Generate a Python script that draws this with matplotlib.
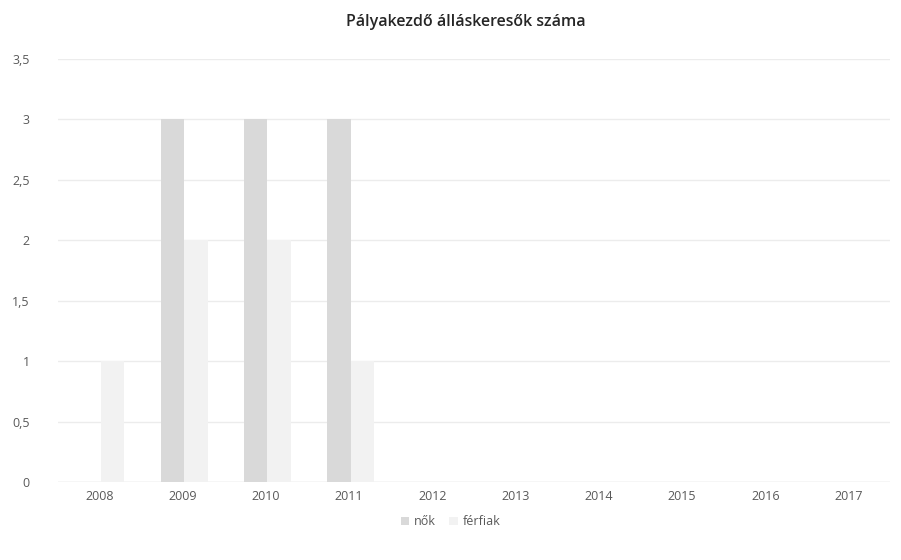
import numpy as np
import matplotlib.pyplot as plt

years = ['2008', '2009', '2010', '2011', '2012', '2013', '2014', '2015', '2016', '2017']
nok = [0, 3, 3, 3, 0, 0, 0, 0, 0, 0]
ferfiak = [1, 2, 2, 1, 0, 0, 0, 0, 0, 0]
y_ticks = [0, 0.5, 1, 1.5, 2, 2.5, 3, 3.5]
y_labels = ['0', '0,5', '1', '1,5', '2', '2,5', '3', '3,5']

plt.rcParams['font.family'] = ['Open Sans', 'DejaVu Sans']

fig = plt.figure(figsize=(9.01, 5.60), dpi=100)
ax = fig.add_axes([0.064, 0.139, 0.924, 0.756])

x = np.arange(len(years))
w = 0.28
ax.bar(x - w / 2 + 0.02, nok, w, color='#d9d9d9', label='nők', zorder=2)
ax.bar(x + w / 2 + 0.02, ferfiak, w, color='#f2f2f2', label='férfiak', zorder=2)

ax.set_xlim(-0.5, len(years) - 0.5)
ax.set_ylim(0, 3.5)
ax.set_xticks(x)
ax.set_xticklabels(years)
ax.set_yticks(y_ticks)
ax.set_yticklabels(y_labels)
ax.tick_params(length=0, labelsize=9, colors='#595959')
ax.tick_params(axis='x', pad=6)
ax.tick_params(axis='y', pad=20)
ax.grid(axis='y', color='#ececec', linewidth=1, zorder=0)
for s in ax.spines.values():
    s.set_visible(False)
ax.axhline(0, color='#e4e4e4', linewidth=1, zorder=1)

fig.suptitle('Pályakezdő álláskeresők száma', x=0.517, y=0.975, fontsize=11.5,
             color='#262626', fontweight='semibold')
fig.legend(loc='center', bbox_to_anchor=(0.5, 0.068), ncol=2, frameon=False,
           fontsize=9, handlelength=0.7, handleheight=0.7, columnspacing=1.0,
           handletextpad=0.4, labelcolor='#595959')

plt.savefig('out.png', dpi=100)
